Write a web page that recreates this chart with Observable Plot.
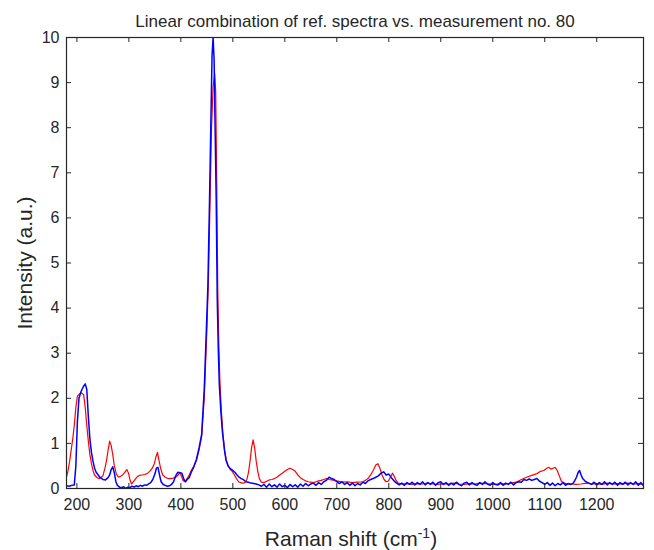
<!DOCTYPE html>
<html><head><meta charset="utf-8">
<script src="https://cdn.jsdelivr.net/npm/d3@7"></script>
<script src="https://cdn.jsdelivr.net/npm/@observablehq/plot@0.6"></script>
<style>body{margin:0;background:#fff;}</style>
</head><body><div id="chart"></div>
<script>
const titleText = "Linear combination of ref. spectra vs. measurement no. 80";
const xLabelText = "Raman shift (cm-1)";
const yLabelText = "Intensity (a.u.)";
const xTicks = [200,300,400,500,600,700,800,900,1000,1100,1200];
const yTicks = [0,1,2,3,4,5,6,7,8,9,10];

// Measurement (blue)
const measShift = [180,185,190,195,198,201,204,208,212,216,219,222,225,228,231,234,237,241,245,250,255,260,263,266,269,272,275,278,282,286,290,294,298,302,306,310,314,318,322,326,330,334,338,342,346,350,353,356,359,362,366,370,374,378,382,386,390,394,398,402,406,409,412,416,420,425,430,435,440,445,449,452,455,458,460,462,464,466,468,470,472,474,477,480,484,487,491,495,500,504,508,512,516,520,525,530,535,540,545,550,555,560,565,570,575,580,585,590,595,600,605,610,615,620,625,630,635,640,645,650,655,660,665,670,675,680,685,690,695,700,705,710,715,720,725,730,735,740,745,750,755,760,765,770,775,780,785,790,795,800,805,810,815,820,825,830,835,840,845,850,855,860,865,870,875,880,885,890,895,900,905,910,915,920,925,930,935,940,945,950,955,960,965,970,975,980,985,990,995,1000,1005,1010,1015,1020,1025,1030,1035,1040,1045,1050,1055,1060,1065,1070,1075,1080,1085,1090,1095,1100,1105,1110,1115,1120,1125,1130,1135,1140,1145,1150,1155,1158,1161,1164,1167,1170,1173,1177,1181,1185,1190,1195,1200,1205,1210,1215,1220,1225,1230,1235,1240,1245,1250,1255,1260,1265,1270,1275,1280,1285,1290];
const measIntensity = [0.06,0.05,0.07,0.08,0.5,1.5,2.0,2.15,2.25,2.32,2.2,1.6,1.1,0.8,0.6,0.45,0.36,0.3,0.24,0.2,0.19,0.24,0.3,0.42,0.48,0.35,0.15,0.07,0.03,0.02,0.04,0.0,0.03,0.02,0.05,0.03,0.06,0.04,0.07,0.05,0.08,0.07,0.1,0.13,0.2,0.32,0.45,0.47,0.3,0.15,0.09,0.07,0.05,0.06,0.09,0.15,0.28,0.36,0.35,0.34,0.2,0.15,0.2,0.24,0.36,0.48,0.65,0.9,1.2,2.2,3.5,4.5,6.3,8.3,9.6,10.0,9.5,7.9,6.4,4.2,3.1,2.3,1.7,1.25,0.85,0.62,0.5,0.44,0.4,0.36,0.3,0.25,0.22,0.2,0.15,0.14,0.12,0.11,0.1,0.08,0.05,0.09,0.03,0.1,0.04,0.08,0.03,0.1,0.04,0.07,0.02,0.09,0.04,0.08,0.03,0.1,0.05,0.11,0.06,0.1,0.12,0.07,0.13,0.09,0.15,0.18,0.25,0.22,0.2,0.15,0.11,0.15,0.09,0.13,0.07,0.12,0.06,0.11,0.08,0.14,0.11,0.17,0.2,0.22,0.25,0.28,0.34,0.37,0.3,0.32,0.24,0.17,0.12,0.08,0.12,0.07,0.13,0.09,0.14,0.08,0.13,0.09,0.15,0.08,0.13,0.09,0.14,0.07,0.13,0.15,0.09,0.13,0.07,0.12,0.08,0.14,0.09,0.06,0.12,0.14,0.08,0.13,0.09,0.07,0.13,0.09,0.15,0.1,0.07,0.13,0.09,0.08,0.13,0.07,0.12,0.09,0.14,0.08,0.13,0.15,0.14,0.2,0.18,0.21,0.18,0.2,0.22,0.16,0.13,0.09,0.13,0.07,0.12,0.06,0.11,0.08,0.13,0.07,0.11,0.09,0.12,0.18,0.25,0.35,0.4,0.3,0.22,0.17,0.14,0.12,0.09,0.14,0.08,0.13,0.09,0.15,0.08,0.13,0.09,0.14,0.07,0.13,0.09,0.14,0.08,0.13,0.09,0.15,0.07,0.13,0.06];

// Linear combination of reference spectra (red)
const fitShift = [180,183,186,189,192,195,198,201,205,209,213,216,219,222,225,228,231,234,238,242,246,250,254,257,260,263,266,269,272,276,280,284,288,292,296,299,302,305,308,312,316,320,325,330,335,340,345,349,352,355,358,361,365,370,375,380,385,390,395,398,401,404,408,412,416,420,425,430,435,440,445,450,453,456,459,462,465,467,469,471,473,475,478,481,484,487,491,495,499,503,507,511,515,519,523,527,530,533,536,539,542,545,548,551,555,560,565,570,575,580,585,590,595,600,605,610,615,620,625,630,635,640,645,650,655,660,665,670,675,680,685,690,695,700,710,720,730,740,750,755,760,765,770,775,779,783,787,791,795,799,803,807,810,814,818,825,835,845,855,865,875,885,895,905,915,925,935,945,955,965,975,985,995,1005,1015,1025,1035,1045,1055,1065,1075,1085,1092,1098,1104,1108,1112,1116,1120,1124,1128,1132,1138,1145,1152,1160,1170,1180,1190,1200,1210,1220,1230,1240,1250,1260,1270,1280,1290];
const fitIntensity = [0.25,0.4,0.6,0.85,1.1,1.4,1.8,2.05,2.1,2.12,2.08,1.8,1.4,1.05,0.75,0.55,0.4,0.3,0.25,0.22,0.24,0.28,0.45,0.62,0.85,1.05,0.95,0.75,0.5,0.32,0.25,0.27,0.3,0.36,0.42,0.35,0.2,0.1,0.14,0.2,0.26,0.29,0.3,0.31,0.33,0.38,0.45,0.55,0.7,0.8,0.62,0.45,0.3,0.25,0.22,0.22,0.23,0.25,0.3,0.36,0.28,0.18,0.15,0.22,0.3,0.4,0.5,0.62,0.85,1.15,2.0,3.5,4.6,6.3,8.0,8.9,9.2,8.8,6.8,4.4,3.2,2.4,1.7,1.2,0.85,0.65,0.5,0.42,0.38,0.3,0.22,0.15,0.13,0.12,0.13,0.2,0.35,0.6,0.9,1.08,0.9,0.6,0.38,0.22,0.14,0.13,0.16,0.19,0.2,0.22,0.25,0.3,0.34,0.38,0.42,0.45,0.42,0.38,0.3,0.24,0.2,0.17,0.15,0.14,0.13,0.15,0.17,0.18,0.2,0.22,0.2,0.19,0.18,0.17,0.14,0.15,0.13,0.14,0.15,0.18,0.22,0.3,0.4,0.52,0.55,0.45,0.3,0.2,0.15,0.16,0.25,0.34,0.28,0.18,0.12,0.1,0.11,0.09,0.11,0.1,0.12,0.1,0.09,0.11,0.1,0.12,0.1,0.09,0.11,0.1,0.12,0.11,0.1,0.09,0.11,0.1,0.12,0.14,0.2,0.25,0.29,0.33,0.38,0.4,0.45,0.47,0.43,0.45,0.47,0.4,0.28,0.16,0.12,0.1,0.1,0.09,0.1,0.12,0.1,0.11,0.09,0.12,0.1,0.11,0.1,0.12,0.1,0.11,0.09];

const measured = measShift.map((s, i) => ({shift: s, intensity: measIntensity[i]}));
const fitted = fitShift.map((s, i) => ({shift: s, intensity: fitIntensity[i]}));

const W = 654, H = 550, mL = 66, mR = 11, mT = 37, mB = 62;
const frameW = W - mL - mR, frameH = H - mT - mB, tk = 5;
const font = "'Liberation Sans', Arial, Helvetica, sans-serif";
const ink = "#262626";

const chart = Plot.plot({
  width: W, height: H,
  marginLeft: mL, marginRight: mR, marginTop: mT, marginBottom: mB,
  style: {fontFamily: font, background: "#fff", color: ink, overflow: "visible"},
  x: {domain: [180, 1290]},
  y: {domain: [0, 10]},
  marks: [
    Plot.line(fitted, {x: "shift", y: "intensity", stroke: "#ff0000", strokeWidth: 1.2, clip: true}),
    Plot.line(measured, {x: "shift", y: "intensity", stroke: "#0000ff", strokeWidth: 1.5, clip: true}),
    Plot.tickX(xTicks, {x: d => d, insetTop: frameH - tk, stroke: ink}),
    Plot.tickX(xTicks, {x: d => d, insetBottom: frameH - tk, stroke: ink}),
    Plot.tickY(yTicks, {y: d => d, insetRight: frameW - tk, stroke: ink}),
    Plot.tickY(yTicks, {y: d => d, insetLeft: frameW - tk, stroke: ink}),
    Plot.frame({stroke: ink, strokeWidth: 1.2}),
    Plot.axisX(xTicks, {tickSize: 0, tickPadding: 10, fontSize: 16, label: null, tickFormat: d => String(d), fill: ink}),
    Plot.axisY(yTicks, {tickSize: 0, tickPadding: 7, fontSize: 16, label: null, tickFormat: d => String(d), fill: ink}),
    Plot.text([titleText], {frameAnchor: "top", dy: -11, lineAnchor: "bottom", fontSize: 17, fill: ink}),
    Plot.text([xLabelText], {frameAnchor: "bottom", dx: -4, dy: 57, lineAnchor: "bottom", textAnchor: "middle", fontSize: 21, fill: ink}),
    Plot.text([yLabelText], {frameAnchor: "left", dx: -41, rotate: -90, textAnchor: "middle", lineAnchor: "middle", fontSize: 21, fill: ink})
  ]
});
document.getElementById("chart").appendChild(chart);

// superscript for cm^-1
d3.select(chart).selectAll("text").filter(function() { return this.textContent === xLabelText; })
  .each(function() {
    const t = d3.select(this);
    t.text(null);
    t.append("tspan").text("Raman shift (cm");
    t.append("tspan").attr("dy", -8).attr("font-size", 14).text("-1");
    t.append("tspan").attr("dy", 8).text(")");
  });
</script>
</body></html>
